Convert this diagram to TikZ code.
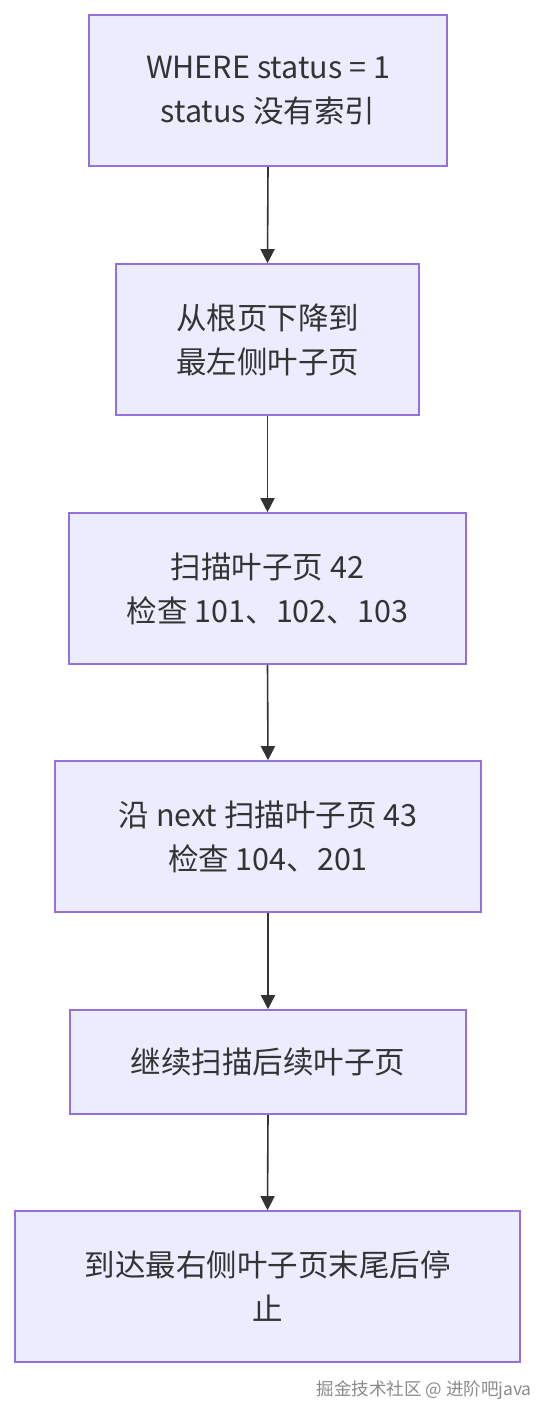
\documentclass[tikz,border=0pt]{standalone}
\usepackage{fontspec}
\setmainfont{Noto Sans CJK SC}
\usetikzlibrary{arrows.meta}
\definecolor{boxfill}{HTML}{ECECFF}
\definecolor{boxline}{HTML}{9370DB}
\definecolor{ink}{HTML}{333333}
\definecolor{wm}{HTML}{8A8A8A}
\tikzset{
  flowbox/.style={draw=boxline, fill=boxfill, line width=1.6pt, inner sep=0pt,
    align=center, text=ink, font=\fontsize{30.5}{44}\selectfont},
  flowarrow/.style={draw=ink, line width=1.6pt, -{Triangle[length=14pt,width=14pt]}}
}
\begin{document}
\begin{tikzpicture}[x=1pt,y=-1pt]
\useasboundingbox (0,0) rectangle (552,1420);
\node[flowbox, minimum width=358pt, minimum height=151pt] (n1) at (268,90.5) {WHERE status = 1\\status 没有索引};
\node[flowbox, minimum width=303pt, minimum height=151pt] (n2) at (267.5,339.5) {从根页下降到\\最左侧叶子页};
\node[flowbox, minimum width=397pt, minimum height=151pt] (n3) at (267.5,588.5) {扫描叶子页 42\\检查 101、102、103};
\node[flowbox, minimum width=426pt, minimum height=151pt] (n4) at (268,836.5) {沿 next 扫描叶子页 43\\检查 104、201};
\node[flowbox, minimum width=396pt, minimum height=104pt] (n5) at (268,1062) {继续扫描后续叶子页};
\node[flowbox, minimum width=505pt, minimum height=151pt] (n6) at (267.5,1286.5) {到达最右侧叶子页末尾后停\\止};
\draw[flowarrow] (n1.south) -- (n2.north);
\draw[flowarrow] (n2.south) -- (n3.north);
\draw[flowarrow] (n3.south) -- (n4.north);
\draw[flowarrow] (n4.south) -- (n5.north);
\draw[flowarrow] (n5.south) -- (n6.north);
\node[anchor=east, text=wm, font=\fontsize{17.5}{20}\selectfont, inner sep=0pt] (wmk) at (532,1390) {掘金技术社区 @ 进阶吧java};
\end{tikzpicture}
\end{document}
